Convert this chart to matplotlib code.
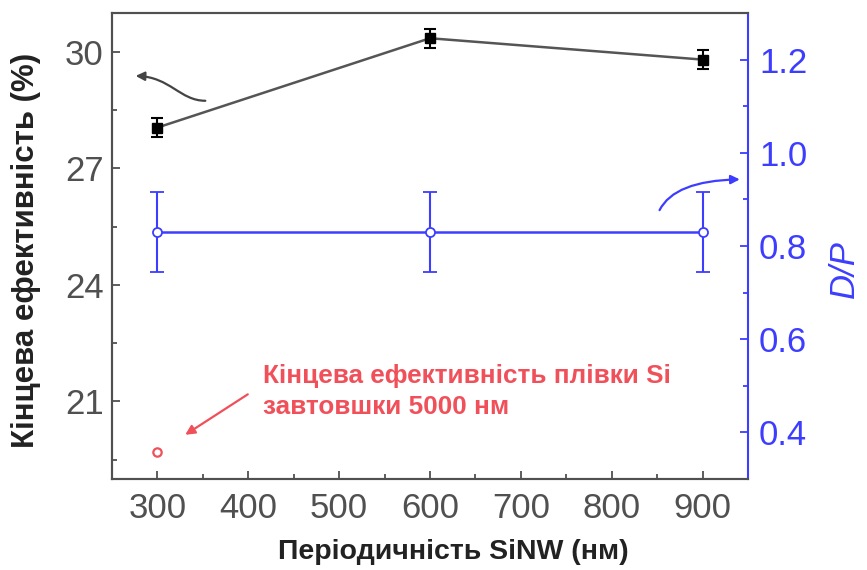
import matplotlib.pyplot as plt
from matplotlib.patches import FancyArrowPatch
from matplotlib.path import Path

plt.rcParams['font.family'] = ['Liberation Sans', 'DejaVu Sans']

# SiNW period (nm)
periods = [300, 600, 900]
# final efficiency (%) with error
eff = [28.05, 30.35, 29.8]
eff_err = [0.25, 0.25, 0.25]
# D/P ratio with error
dp = [0.83, 0.83, 0.83]
dp_err = [0.085, 0.085, 0.085]
# thin film reference point
film_x = [300]
film_eff = [19.7]

GRAY = '#505050'
BLUE = '#3d3dff'
RED = '#f0505a'

fig = plt.figure(figsize=(8.67, 5.70), dpi=100)
ax = fig.add_axes([0.1292, 0.1596, 0.7335, 0.8176])
ax2 = ax.twinx()

ax.errorbar(periods, eff, yerr=eff_err, color='#555555', lw=1.8,
            marker='s', ms=7.5, mfc='black', mec='black', ecolor='black',
            elinewidth=1.5, capsize=4, capthick=1.5, zorder=3)
ax.plot(film_x, film_eff, 'o', ms=6, mfc='white', mec=RED, mew=1.6)

ax2.errorbar(periods, dp, yerr=dp_err, color=BLUE, lw=1.8,
             marker='o', ms=6.5, mfc='white', mec=BLUE, mew=1.3,
             ecolor=BLUE, elinewidth=1.5, capsize=5, capthick=1.5)

ax.set_xlim(250, 950)
ax.set_ylim(19, 31)
ax2.set_ylim(0.3, 1.3)
ax.set_xticks(range(300, 901, 100))
ax.set_xticks(range(350, 951, 100), minor=True)
ax.set_yticks([21, 24, 27, 30])
ax.set_yticks([19.5, 22.5, 25.5, 28.5], minor=True)
ax2.set_yticks([0.4, 0.6, 0.8, 1.0, 1.2])
ax2.set_yticks([0.3, 0.5, 0.7, 0.9, 1.1], minor=True)
ax2.set_yticklabels(['0.4', '0.6', '0.8', '1.0', '1.2'])

ax.tick_params(which='both', direction='in', colors=GRAY, labelsize=25,
               width=1.3)
ax.tick_params(which='major', length=6)
ax.tick_params(which='minor', length=3.5)
ax.tick_params(axis='x', pad=9)
ax.tick_params(axis='y', pad=6)
ax2.tick_params(which='both', direction='in', colors=BLUE, labelsize=25,
                width=1.3, pad=8)
ax2.tick_params(which='major', length=6)
ax2.tick_params(which='minor', length=3.5)

for s in ['left', 'bottom', 'top']:
    ax.spines[s].set_color(GRAY)
    ax.spines[s].set_linewidth(1.5)
    ax2.spines[s].set_color(GRAY)
    ax2.spines[s].set_linewidth(1.5)
ax2.spines['right'].set_color(BLUE)
ax2.spines['right'].set_linewidth(1.5)
ax.spines['right'].set_visible(False)

ax.set_xlabel('Періодичність SiNW (нм)', fontsize=20.5, fontweight='bold',
              color='#222222')
ax.xaxis.set_label_coords(0.537, -0.128)
ax.set_ylabel('Кінцева ефективність (%)', fontsize=22.5, fontweight='bold',
              color='#222222')
ax.yaxis.set_label_coords(-0.112, 0.49)
ax2.set_ylabel('D/P', fontsize=25, style='italic', color=BLUE)
ax2.yaxis.set_label_coords(1.126, 0.45)

ax.text(416.5, 21.48, 'Кінцева ефективність плівки Si', color=RED,
        fontsize=18.8, fontweight='bold')
ax.text(416.5, 20.68, 'завтовшки 5000 нм', color=RED,
        fontsize=18.8, fontweight='bold')

# pointer to the thin-film point
ax.annotate('', xy=(328, 20.1), xytext=(402, 21.22),
            arrowprops=dict(arrowstyle='-|>', color=RED, lw=1.6,
                            mutation_scale=14))

# curved pointer to the left axis
black_path = Path([(352.7, 28.74), (325, 28.74), (314, 29.35), (276, 29.38)],
                  [Path.MOVETO, Path.CURVE4, Path.CURVE4, Path.CURVE4])
ax.add_patch(FancyArrowPatch(path=black_path, arrowstyle='-|>',
                             color='#444444', lw=1.6, mutation_scale=13))

# curved pointer to the right axis
blue_path = Path([(852.7, 0.877), (869, 0.94), (941, 0.943)],
                 [Path.MOVETO, Path.CURVE3, Path.CURVE3])
ax2.add_patch(FancyArrowPatch(path=blue_path, arrowstyle='-|>',
                              color=BLUE, lw=1.6, mutation_scale=13))

fig.savefig('out.png', dpi=100)
